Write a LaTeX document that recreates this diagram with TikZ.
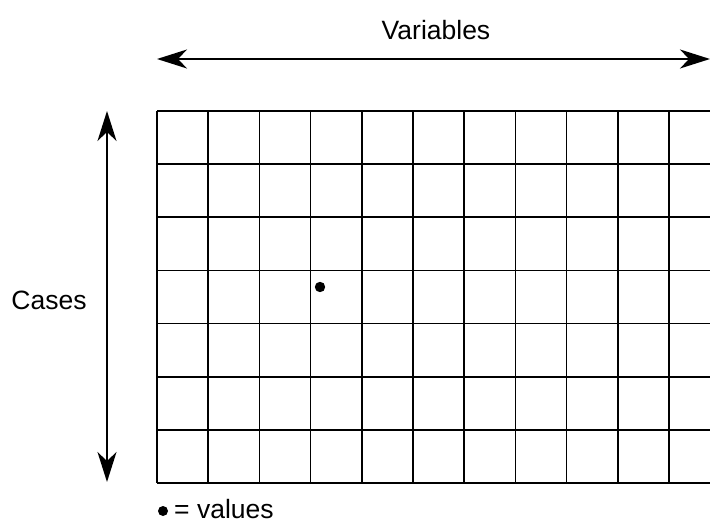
\documentclass[tikz,border=0pt]{standalone}
\usepackage{fontspec}
\setmainfont{Liberation Sans}
\usetikzlibrary{arrows.meta}
\begin{document}
\begin{tikzpicture}[x=1pt,y=-1pt,
  gridline/.style={line width=1.6pt,black},
  dblarrow/.style={line width=1.6pt,{Stealth[length=30pt,width=19pt,inset=9pt]}-{Stealth[length=30pt,width=19pt,inset=9pt]}},
  lbl/.style={font=\fontsize{26.5}{30}\selectfont,inner sep=0pt},
  valuedot/.style={fill=black}]
\useasboundingbox (0,0) rectangle (710,524);
% grid
\foreach \r in {0,...,7} {
  \draw[gridline] (157,{111+\r*53.14}) -- (712,{111+\r*53.14});
}
\foreach \c in {0,...,10} {
  \draw[gridline] ({157+\c*51.2},111) -- ({157+\c*51.2},483);
}
% arrows
\coordinate (hl) at (157,59);
\coordinate (hr) at (710,59);
\coordinate (vt) at (107,111);
\coordinate (vb) at (107,482);
\draw[dblarrow] (hl) -- (hr);
\draw[dblarrow] (vt) -- (vb);
% labels
\node[lbl] (var) at (436,30) {Variables};
\node[lbl] (cases) at (49,300) {Cases};
% value dot
\fill[valuedot] (320,287) circle (5.2);
% legend
\fill[valuedot] (163,511) circle (5);
\node[lbl,anchor=base west] (legend) at (174,518) {= values};
\end{tikzpicture}
\end{document}
